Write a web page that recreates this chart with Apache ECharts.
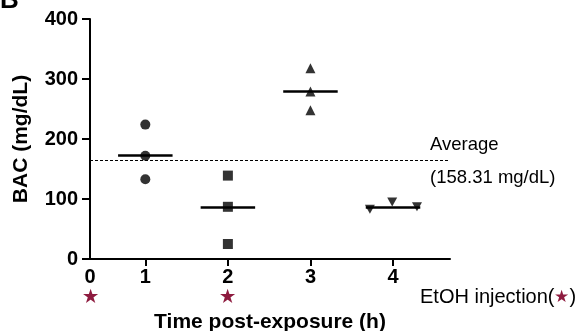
<!DOCTYPE html>
<html>
<head>
<meta charset="utf-8">
<script src="https://cdn.jsdelivr.net/npm/echarts@6/dist/echarts.min.js"></script>
<style>
  html, body { margin: 0; padding: 0; background: #fff; }
  #chart { width: 584px; height: 331px; }
</style>
</head>
<body>
<div id="chart"></div>
<script>
// BAC per time point (x, y)
var group1 = [[1, 224], [1, 172], [1, 133]];
var group2 = [[2, 139], [2, 87], [2, 25]];
var group3 = [[3, 318], [3, 279], [3, 248]];
var group4 = [[3.72, 83], [3.99, 95], [4.29, 87]];
var means = [173, 87, 280, 87];
var meanX = [1, 2, 3, 4];
var injectionTimes = [0, 2];
var averageLine = 165;
var yTicks = [0, 100, 200, 300, 400];
var xTicks = [1, 2, 3, 4];

var xMin = 0.33, xMax = 4.69;
var font = '"Liberation Sans", Arial, sans-serif';
var starColor = '#8e1b3f';

var myChart = echarts.init(document.getElementById('chart'));

function meanLine(i) {
  return [
    { coord: [meanX[i] - 0.33, means[i]], lineStyle: { color: '#000', width: 2.5, type: 'solid' } },
    { coord: [meanX[i] + 0.33, means[i]] }
  ];
}

function dots(data, symbol, size) {
  return {
    type: 'scatter',
    data: data,
    symbol: symbol,
    symbolSize: size,
    itemStyle: { color: '#000' },
    z: 3
  };
}

var downTri = 'path://M0,0 L10,0 L5,9 Z';

var s1 = dots(group1, 'circle', 10);
s1.markLine = {
  silent: true,
  symbol: 'none',
  label: { show: false },
  lineStyle: { color: '#000', width: 1.2, type: [3, 2] },
  data: [
    [{ coord: [xMin, averageLine] }, { coord: [xMax, averageLine] }],
    meanLine(0), meanLine(1), meanLine(2), meanLine(3)
  ]
};

myChart.setOption({
  animation: false,
  grid: { left: 90, top: 19, right: 134, bottom: 72, outerBoundsMode: 'none' },
  xAxis: {
    type: 'value',
    min: xMin,
    max: xMax,
    splitLine: { show: false },
    axisLine: { lineStyle: { color: '#000', width: 2 } },
    axisTick: {
      customValues: xTicks,
      length: 7,
      lineStyle: { color: '#000', width: 2 }
    },
    axisLabel: {
      customValues: [xMin].concat(xTicks),
      margin: 8,
      fontFamily: font,
      fontWeight: 'bold',
      fontSize: 20,
      color: '#000',
      lineHeight: 20,
      formatter: function (v) {
        var t = v === xMin ? 0 : Math.round(v);
        var txt = String(t);
        if (injectionTimes.indexOf(t) >= 0) txt += '\n{s|★}';
        return txt;
      },
      rich: { s: { color: starColor, fontSize: 17, lineHeight: 20 } }
    },
    name: 'Time post-exposure (h)',
    nameLocation: 'middle',
    nameGap: 50,
    nameTextStyle: { fontFamily: font, fontWeight: 'bold', fontSize: 21, color: '#000' }
  },
  yAxis: {
    type: 'value',
    min: yTicks[0],
    max: yTicks[yTicks.length - 1],
    interval: 100,
    splitLine: { show: false },
    axisLine: { show: true, lineStyle: { color: '#000', width: 2 } },
    axisTick: { show: true, length: 8, lineStyle: { color: '#000', width: 2 } },
    axisLabel: {
      margin: 12,
      fontFamily: font,
      fontWeight: 'bold',
      fontSize: 20,
      color: '#000'
    },
    name: 'BAC (mg/dL)',
    nameLocation: 'middle',
    nameGap: 58,
    nameTextStyle: { fontFamily: font, fontWeight: 'bold', fontSize: 21, color: '#000' }
  },
  series: [
    s1,
    dots(group2, 'rect', 10),
    dots(group3, 'triangle', 10),
    dots(group4, downTri, [10, 9])
  ],
  graphic: [
    {
      type: 'text', left: 0, top: -12,
      style: { text: 'B', font: 'bold 26px ' + font, fill: '#000' }
    },
    {
      type: 'text', left: 430, top: 135,
      style: { text: 'Average', font: '18.5px ' + font, fill: '#000' }
    },
    {
      type: 'text', left: 430, top: 168,
      style: { text: '(158.31 mg/dL)', font: '18.5px ' + font, fill: '#000' }
    },
    {
      type: 'text', left: 420, top: 287,
      style: {
        text: 'EtOH injection({s|★})',
        font: '20px ' + font,
        fill: '#000',
        rich: { s: { fill: starColor, fontSize: 17 } }
      }
    }
  ]
});
</script>
</body>
</html>
